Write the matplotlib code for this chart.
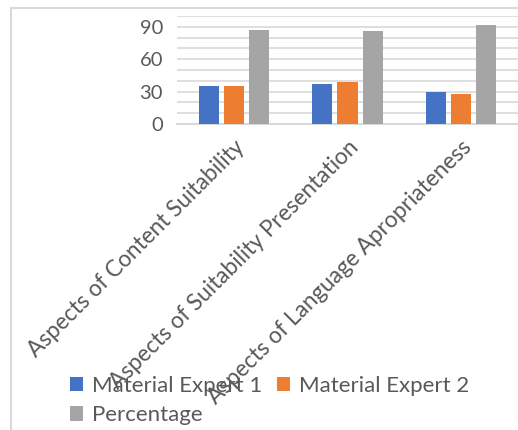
import matplotlib.pyplot as plt
import numpy as np
from matplotlib.lines import Line2D

categories = ["Aspects of Content Suitability",
              "Aspects of Suitability Presentation",
              "Aspects of Language Apropriateness"]
series_names = ["Material Expert 1", "Material Expert 2", "Percentage"]
expert1 = [35.2, 37.0, 29.6]
expert2 = [35.2, 39.2, 27.8]
percentage = [87.0, 86.0, 91.7]
y_ticks = [0, 30, 60, 90]

colors = ["#4472C4", "#ED7D31", "#A5A5A5"]
text_color = "#595959"
grid_color = "#D9D9D9"

plt.rcParams['font.family'] = ['Lato', 'DejaVu Sans']

fig = plt.figure(figsize=(5.18, 4.30), dpi=100, facecolor="#ffffff")
ax = fig.add_axes([177 / 518, (430 - 124) / 430, 1 - 177 / 518, 108 / 430])

x = np.arange(len(categories))
width = 0.176
step = 0.22
for i, (vals, name) in enumerate(zip([expert1, expert2, percentage], series_names)):
    ax.bar(x + (i - 1) * step, vals, width, color=colors[i], label=name, zorder=3)

ax.set_xlim(-0.5, len(categories) - 0.5)
ax.set_ylim(0, 100)
ax.set_yticks(y_ticks)
ax.set_yticks(np.arange(0, 101, 10), minor=True)
ax.grid(axis="y", which="both", color=grid_color, linewidth=1.2, zorder=0)
ax.tick_params(axis="y", which="both", length=0, labelsize=14.5,
               labelcolor=text_color, pad=10)
ax.tick_params(axis="x", length=0, pad=9)
ax.set_xticks(x)
ax.set_xticklabels(categories, rotation=45, ha="right", rotation_mode="anchor",
                   fontsize=16.3, color=text_color)
for side in ["left", "right", "top"]:
    ax.spines[side].set_visible(False)
ax.spines["bottom"].set_color(grid_color)
ax.spines["bottom"].set_linewidth(1.5)

# legend fills column-wise, so reorder to get ME1, ME2 on row one
handles, labels = ax.get_legend_handles_labels()
order = [0, 2, 1]
fig.legend([handles[i] for i in order], [labels[i] for i in order],
           loc="upper left", bbox_to_anchor=(70 / 518, 1 - 376 / 430),
           ncol=2, frameon=False, fontsize=16, labelcolor=text_color,
           handlelength=0.6, handleheight=0.6, handletextpad=0.4,
           columnspacing=0.65, borderpad=0, borderaxespad=0, labelspacing=0.42)

# outer chart frame
fig.add_artist(Line2D([11 / 518, 11 / 518], [0, 1 - 8 / 430],
                      transform=fig.transFigure, color=grid_color, linewidth=1.5))
fig.add_artist(Line2D([11 / 518, 1], [1 - 8 / 430, 1 - 8 / 430],
                      transform=fig.transFigure, color=grid_color, linewidth=1.5))

plt.savefig("out.png", dpi=100, facecolor="#ffffff")
